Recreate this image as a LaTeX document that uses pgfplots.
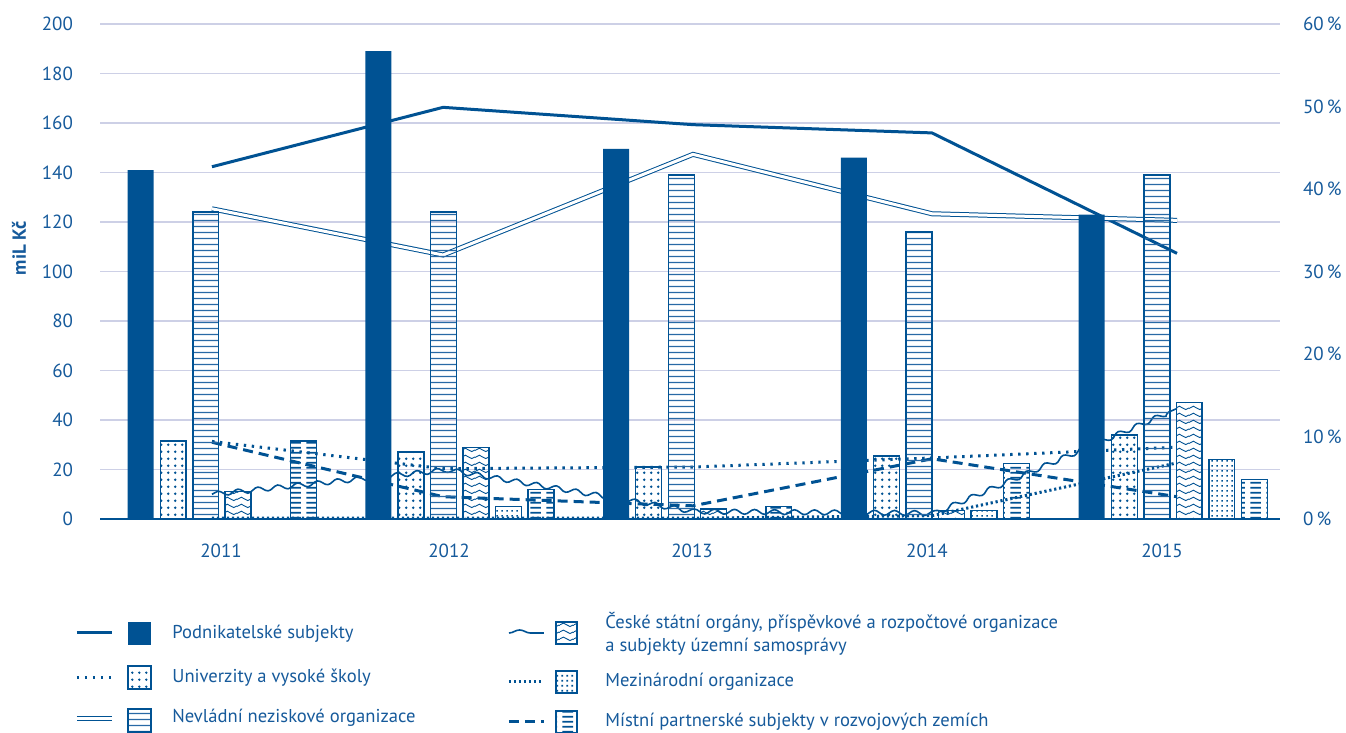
\documentclass[border=0pt]{standalone}
\usepackage{fontspec}
\setmainfont{PT Sans}
\usepackage{pgfplots}
\pgfplotsset{compat=1.18}
\usetikzlibrary{patterns.meta,decorations.pathmorphing}
\definecolor{cb}{RGB}{0,82,147}
\definecolor{ct}{RGB}{22,90,155}
\definecolor{cg}{RGB}{205,208,230}
\definecolor{cl}{RGB}{40,105,165}

\tikzdeclarepattern{
  name=udots, type=colored,
  bounding box={(0bp,0bp) and (3.6bp,3.6bp)},
  tile size={(3.6bp,3.6bp)},
  code={\fill[cb] (1.8bp,1.8bp) circle (0.7bp);}
}
\tikzdeclarepattern{
  name=hlin, type=colored,
  bounding box={(0bp,0bp) and (3bp,3bp)},
  tile size={(3bp,3bp)},
  code={\fill[cl] (0bp,1.1bp) rectangle (3bp,1.8bp);}
}
\tikzdeclarepattern{
  name=wav, type=colored,
  bounding box={(0bp,0bp) and (7bp,3.5bp)},
  tile size={(7bp,3.5bp)},
  code={\draw[cb,line width=0.5bp] (0bp,1.75bp) sin (1.75bp,2.7bp) cos (3.5bp,1.75bp) sin (5.25bp,0.8bp) cos (7bp,1.75bp);}
}
\tikzdeclarepattern{
  name=gdots, type=colored,
  bounding box={(0bp,0bp) and (2.5bp,2.5bp)},
  tile size={(2.5bp,2.5bp)},
  code={\fill[cb] (0.75bp,0.75bp) rectangle (1.75bp,1.75bp);}
}
\tikzdeclarepattern{
  name=dsh, type=colored,
  bounding box={(0bp,0bp) and (8bp,2.6bp)},
  tile size={(8bp,2.6bp)},
  code={\fill[cb] (1.2bp,0.8bp) rectangle (6.8bp,1.8bp);}
}

\begin{document}
\begin{tikzpicture}
\useasboundingbox (0,0) rectangle (673bp,366.5bp);
\pgfplotsset{
  base/.style={
    scale only axis, width=590bp, height=247.5bp,
    at={(50bp,107bp)}, anchor=south west,
    xmin=2010.487, xmax=2015.45, ymin=0,
    tick style={draw=none}, major tick length=0pt,
    /pgf/number format/assume math mode=true,
    ticklabel style={font=\fontsize{9.5bp}{11bp}\selectfont, text=ct},
  }
}
% axis 1: grid, left scale, categories
\begin{axis}[base, ymax=200,
  axis x line*=bottom, axis y line*=left,
  x axis line style={draw=cb, line width=1bp},
  y axis line style={draw=none},
  ytick={0,20,...,200}, yticklabel={\pgfmathprintnumber{\tick}},
  ymajorgrids, grid style={draw=cg, line width=0.7bp},
  xtick={2010.996,2011.955,2012.977,2013.965,2014.954},
  xticklabels={2011,2012,2013,2014,2015},
  yticklabel style={xshift=-10bp},
  xticklabel style={yshift=-9bp},
]
\addplot[draw=none] coordinates {(2011,0)};
\end{axis}
% axis 2: shares in percent (lines)
\begin{axis}[base, ymax=60,
  axis x line=none, axis y line*=right,
  y axis line style={draw=none},
  ytick={0,10,...,60}, yticklabel={\pgfmathprintnumber{\tick}\,\%},
  yticklabel style={xshift=8bp},
]
% Podnikatelske subjekty
\addplot[cb, line width=1.5bp, line join=round] coordinates {(2010.958,42.7) (2011.930,49.9) (2012.981,47.8) (2013.986,46.8) (2015.017,32.2)};
% Univerzity
\addplot[cb, line width=1.5bp, dash pattern=on 1.2bp off 2.8bp] coordinates {(2010.958,9.4) (2011.930,6.1) (2012.981,6.3) (2013.986,7.4) (2015.017,8.7)};
% Nevladni
\addplot[cb, double=white, double distance=1.5bp, line width=0.5bp] coordinates {(2010.958,37.6) (2011.930,32.0) (2012.981,44.2) (2013.986,37.0) (2015.017,36.2)};
% Ceske statni organy
\addplot[cb, line width=0.8bp, decorate, decoration={snake, amplitude=1.2bp, segment length=10bp}] coordinates {(2010.958,3.0) (2011.930,5.9) (2012.981,0.8) (2013.986,0.6) (2015.017,13.4)};
% Mezinarodni
\addplot[cb, line width=1.5bp, dash pattern=on 1.1bp off 1.4bp] coordinates {(2010.958,0.1) (2011.930,0.1) (2012.981,0.1) (2013.986,0.4) (2015.017,6.8)};
% Mistni partnerske
\addplot[cb, line width=1.5bp, dash pattern=on 5bp off 3bp] coordinates {(2010.958,9.3) (2011.930,2.7) (2012.981,1.6) (2013.986,7.3) (2015.017,2.7)};
\end{axis}
% axis 3: bars in mil. Kc
\begin{axis}[base, ymax=200, hide axis]
\addplot[ybar, bar width=0.109, bar shift=-0.342, fill=cb, draw=none] coordinates {(2011,141) (2012,189) (2013,149.5) (2014,146) (2015,123)};
\addplot[ybar, bar width=0.109, bar shift=-0.205, draw=cb, line width=0.7bp, pattern=udots] coordinates {(2011,31.5) (2012,27) (2013,21) (2014,25.5) (2015,34)};
\addplot[ybar, bar width=0.109, bar shift=-0.068, draw=cb, line width=0.7bp, pattern=hlin] coordinates {(2011,124) (2012,124) (2013,139) (2014,116) (2015,139)};
\addplot[ybar, bar width=0.109, bar shift=0.068, draw=cb, line width=0.7bp, pattern=wav] coordinates {(2011,11) (2012,29) (2013,4) (2014,3.5) (2015,47)};
\addplot[ybar, bar width=0.109, bar shift=0.205, draw=cb, line width=0.7bp, pattern=gdots] coordinates {(2012,5) (2014,3.5) (2015,24)};
\addplot[ybar, bar width=0.109, bar shift=0.342, draw=cb, line width=0.7bp, pattern=dsh] coordinates {(2011,31.5) (2012,12) (2013,5) (2014,22.5) (2015,16)};
\end{axis}
% y label and legend (pixel coordinates of the reference)
\begin{scope}[x=0.5bp, y=-0.5bp, yshift=366.5bp]
\node[rotate=90, font=\bfseries\fontsize{9.5bp}{11bp}\selectfont, text=ct] at (19,248) {miL Kč};
\tikzset{lt/.style={anchor=west, inner sep=0pt, text=ct, font=\fontsize{9.3bp}{11.5bp}\selectfont}}
% left column
\draw[cb, line width=1.5bp] (77,633) -- (112,633);
\fill[cb] (128,622) rectangle (151,645);
\node[lt] at (172,634) {Podnikatelské subjekty};
\draw[cb, line width=1.5bp, dash pattern=on 1.2bp off 2.8bp] (77,678) -- (112,678);
\draw[cb, line width=0.7bp, pattern=udots] (128,666) rectangle (151,689);
\node[lt] at (172,678) {Univerzity a vysoké školy};
\draw[cb, double=white, double distance=1.5bp, line width=0.5bp] (77,719) -- (112,719);
\draw[cb, line width=0.7bp, pattern=hlin] (128,709) rectangle (151,732);
\node[lt] at (172,718) {Nevládní neziskové organizace};
% right column
\draw[cb, line width=0.8bp, decorate, decoration={snake, amplitude=1.5bp, segment length=17bp}] (509,633) -- (544,633);
\draw[cb, line width=0.7bp, pattern=wav] (556,622) rectangle (577,644);
\node[lt, align=left] at (605,634) {České státní orgány, příspěvkové a rozpočtové organizace\\a subjekty územní samosprávy};
\draw[cb, line width=1.5bp, dash pattern=on 1.1bp off 1.4bp] (509,682) -- (544,682);
\draw[cb, line width=0.7bp, pattern=gdots] (556,671) rectangle (577,693);
\node[lt] at (605,682) {Mezinárodní organizace};
\draw[cb, line width=1.5bp, dash pattern=on 5bp off 3bp] (509,722) -- (544,722);
\draw[cb, line width=0.7bp, pattern=dsh] (556,711) rectangle (577,733);
\node[lt] at (605,722) {Místní partnerské subjekty v rozvojových zemích};
\end{scope}
\end{tikzpicture}
\end{document}
